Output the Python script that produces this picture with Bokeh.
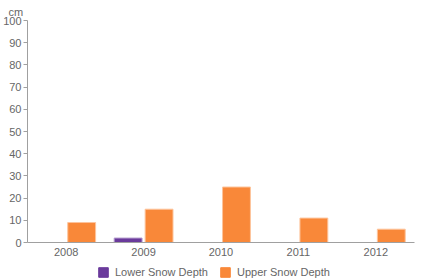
from bokeh.plotting import figure
from bokeh.layouts import column
from bokeh.models import FactorRange, ColumnDataSource, Legend, LegendItem, Title, FixedTicker, Range1d
from bokeh.transform import dodge
from bokeh.embed import file_html
from bokeh.resources import INLINE

years = ["2008", "2009", "2010", "2011", "2012"]
lower_snow = [0, 2, 0, 0, 0]
upper_snow = [9, 15, 25, 11, 6]
y_ticks = [0, 10, 20, 30, 40, 50, 60, 70, 80, 90, 100]
series_names = ["Lower Snow Depth", "Upper Snow Depth"]

FONT = "Liberation Sans"
PURPLE, ORANGE = "#6A3A9C", "#F98839"

src = ColumnDataSource(dict(year=years, lower=lower_snow, upper=upper_snow))

p = figure(width=428, height=258, x_range=FactorRange(*years), y_range=(0, 100),
           output_backend="svg", toolbar_location=None,
           min_border_left=24, min_border_right=14, min_border_top=19, min_border_bottom=16)
p.outline_line_color = None
p.xgrid.visible = False
p.ygrid.visible = False
p.x_range.range_padding = 0

p.vbar(x=dodge("year", -0.2, range=p.x_range), top="lower", width=0.36, source=src,
       fill_color=PURPLE, line_color="#B39BCE", line_width=1)
p.vbar(x=dodge("year", 0.2, range=p.x_range), top="upper", width=0.36, source=src,
       fill_color=ORANGE, line_color="#FDC49C", line_width=1)

for ax in (p.xaxis[0], p.yaxis[0]):
    ax.axis_line_color = "#A0A0A0"
    ax.major_tick_line_color = "#A0A0A0"
    ax.major_label_text_color = "#666666"
    ax.major_label_text_font = FONT
    ax.major_label_text_font_size = "11px"
    ax.minor_tick_line_color = None
p.yaxis.ticker = FixedTicker(ticks=y_ticks)
p.yaxis.major_tick_out = 4
p.yaxis.major_tick_in = 0
p.yaxis.major_label_standoff = 2
p.xaxis.major_tick_out = 0
p.xaxis.major_tick_in = 0
p.xaxis.major_label_standoff = 5

p.add_layout(Title(text="cm", align="left", offset=-19, text_font=FONT, text_font_size="11px",
                   text_font_style="normal", text_color="#666666", standoff=6), "above")

# legend strip (swatch renderers sit outside the visible range)
q = figure(width=428, height=21, x_range=Range1d(0, 1), y_range=Range1d(0, 1),
           output_backend="svg", toolbar_location=None,
           x_axis_location=None, y_axis_location=None,
           min_border_left=0, min_border_right=0, min_border_top=0, min_border_bottom=0)
q.outline_line_color = None
q.xgrid.visible = False
q.ygrid.visible = False
g1 = q.vbar(x=[-5], top=[-5], bottom=[-6], width=0.1, fill_color=PURPLE, line_color=PURPLE)
g2 = q.vbar(x=[-5], top=[-5], bottom=[-6], width=0.1, fill_color=ORANGE, line_color=ORANGE)
legend = Legend(items=[LegendItem(label=series_names[0], renderers=[g1]),
                       LegendItem(label=series_names[1], renderers=[g2])],
                orientation="horizontal", location=(70, 1),
                label_text_font=FONT, label_text_font_size="11px", label_text_color="#666666",
                glyph_width=12, glyph_height=12, label_height=12, spacing=11, padding=0, margin=0,
                label_standoff=6, border_line_color=None, background_fill_alpha=0)
q.add_layout(legend, "center")

layout = column(p, q, spacing=0)
open("out.html", "w").write(file_html(layout, INLINE))
